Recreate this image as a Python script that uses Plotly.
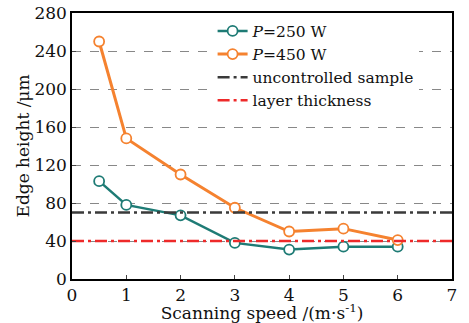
import plotly.graph_objects as go

speed = [0.5, 1, 2, 3, 4, 5, 6]
h_250 = [103, 78, 67, 38, 31, 34, 34]
h_450 = [250, 148, 110, 75, 50, 53, 41]
uncontrolled = 70
layer_thickness = 40
x_range = [0, 7]

FONT = "DejaVu Serif"

fig = go.Figure()
fig.add_trace(go.Scatter(x=speed, y=h_250, name="<i>P</i>=250 W", mode="lines+markers",
                         line=dict(color="#1e7b75", width=2.5),
                         marker=dict(symbol="circle", size=10, color="white",
                                     line=dict(color="#1e7b75", width=1.8))))
fig.add_trace(go.Scatter(x=speed, y=h_450, name="<i>P</i>=450 W", mode="lines+markers",
                         line=dict(color="#f5822f", width=3),
                         marker=dict(symbol="circle", size=10, color="white",
                                     line=dict(color="#f5822f", width=1.8))))
fig.add_trace(go.Scatter(x=x_range, y=[uncontrolled] * 2, name="uncontrolled sample", mode="lines",
                         line=dict(color="#3a3a3a", width=2.5, dash="12px,4px,3px,4px")))
fig.add_trace(go.Scatter(x=x_range, y=[layer_thickness] * 2, name="layer thickness", mode="lines",
                         line=dict(color="#ee2a2a", width=2.5, dash="12px,4px,3px,4px")))

fig.update_layout(
    width=469, height=323,
    margin=dict(l=72, r=17, t=13, b=44, autoexpand=False),
    paper_bgcolor="white", plot_bgcolor="white",
    font=dict(family=FONT, size=17, color="#111"),
    showlegend=True,
    legend=dict(x=0.37, y=0.995, xanchor="left", yanchor="top", bgcolor="white",
                font=dict(family=FONT, size=15.5), tracegroupgap=0, itemwidth=30,
                borderwidth=0),
    xaxis=dict(range=x_range, dtick=1, tick0=0, ticks="inside", ticklen=4,
               showline=True, linecolor="black", linewidth=1.5, mirror=True,
               showgrid=False, zeroline=False, automargin=False,
               tickfont=dict(size=17), ticklabelstandoff=0,
               title=dict(text="Scanning speed /(m·s<sup>-1</sup>)", standoff=2, font=dict(size=17))),
    yaxis=dict(range=[0, 280], dtick=40, tick0=0, ticks="inside", ticklen=4,
               showline=True, linecolor="black", linewidth=1.5, mirror=True,
               showgrid=True, gridcolor="#888", griddash="dash", gridwidth=1,
               zeroline=False, automargin=False,
               tickfont=dict(size=17),
               title=dict(text="Edge height /μm", standoff=0, font=dict(size=17))),
)
fig.write_html("out.html", config={"displayModeBar": False},
               post_script="document.body.style.margin='0';document.body.style.overflow='hidden';")
